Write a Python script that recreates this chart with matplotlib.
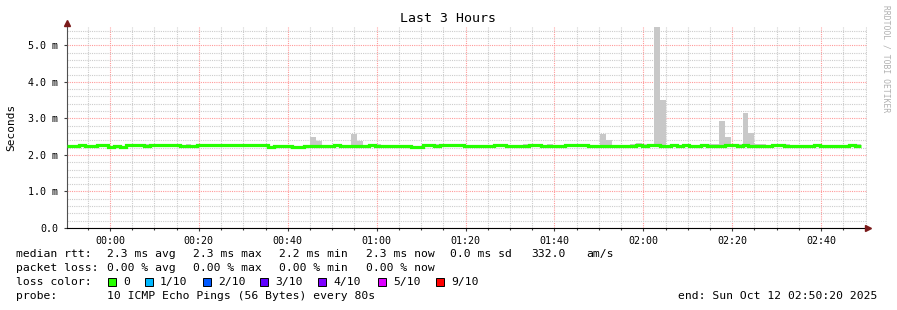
import numpy as np
import matplotlib
matplotlib.use('Agg')
import matplotlib.pyplot as plt
from matplotlib.ticker import MultipleLocator

plt.rcParams['font.family'] = ['DejaVu Sans Mono']

# minutes relative to 00:00, one slot per 80 s step
t_start = -(9 + 40 / 60)   # 23:50:20
t_end = 170 + 20 / 60      # 02:50:20
step_min = 80 / 60

# median rtt per step (ms)
median = [
    2.25, 2.25, 2.27, 2.25, 2.25, 2.27, 2.27, 2.23, 2.25, 2.23,
    2.27, 2.27, 2.27, 2.25, 2.27, 2.27, 2.27, 2.26, 2.27, 2.25,
    2.25, 2.25, 2.27, 2.27, 2.27, 2.27, 2.27, 2.27, 2.27, 2.27,
    2.27, 2.27, 2.27, 2.27, 2.23, 2.25, 2.25, 2.25, 2.23, 2.23,
    2.25, 2.25, 2.25, 2.25, 2.25, 2.27, 2.24, 2.24, 2.25, 2.25,
    2.25, 2.27, 2.25, 2.25, 2.25, 2.25, 2.25, 2.25, 2.23, 2.23,
    2.27, 2.27, 2.25, 2.27, 2.27, 2.27, 2.27, 2.25, 2.25, 2.25,
    2.25, 2.25, 2.27, 2.26, 2.25, 2.25, 2.25, 2.25, 2.27, 2.27,
    2.25, 2.25, 2.25, 2.25, 2.27, 2.27, 2.27, 2.27, 2.25, 2.25,
    2.25, 2.25, 2.25, 2.25, 2.25, 2.25, 2.27, 2.25, 2.27, 2.26,
    2.25, 2.25, 2.27, 2.25, 2.27, 2.25, 2.25, 2.27, 2.25, 2.25,
    2.25, 2.27, 2.27, 2.25, 2.26, 2.25, 2.25, 2.25, 2.25, 2.27,
    2.27, 2.25, 2.25, 2.25, 2.25, 2.25, 2.27, 2.25, 2.25, 2.25,
    2.25, 2.25, 2.27, 2.25,
]

# smoke (max ping) where it shows above the median
smoke_slots = [13, 20, 26, 32, 41, 42, 45, 48, 49, 51, 52, 62, 73, 77, 81,
               90, 91, 95, 96, 97, 99, 100, 108, 109, 110, 111, 113, 114,
               115, 116, 117, 121, 133]
smoke_tops = [2.30, 2.30, 2.30, 2.30, 2.49, 2.38, 2.30, 2.57, 2.38, 2.30,
              2.30, 2.30, 2.30, 2.30, 2.30, 2.57, 2.40, 2.30, 2.32, 2.30,
              5.49, 3.50, 2.30, 2.30, 2.92, 2.49, 2.30, 3.14, 2.60, 2.30,
              2.30, 2.30, 2.30]

x_ticks = [0, 20, 40, 60, 80, 100, 120, 140, 160]
x_labels = ['00:00', '00:20', '00:40', '01:00', '01:20', '01:40',
            '02:00', '02:20', '02:40']
y_ticks = [0, 1, 2, 3, 4, 5]
y_labels = ['0.0', '1.0 m', '2.0 m', '3.0 m', '4.0 m', '5.0 m']

loss_labels = ['0', '1/10', '2/10', '3/10', '4/10', '5/10', '9/10']
loss_colors = ['#26ff00', '#00b8ff', '#0059ff', '#5e00ff', '#7e00ff',
               '#dd00ff', '#ff0000']

W, H = 897, 310
fig = plt.figure(figsize=(W / 100, H / 100), dpi=100)
ax = fig.add_axes([67 / W, (H - 228) / H, 800 / W, 201 / H])

edges = t_start + np.arange(len(median) + 1) * step_min
med = np.array(median)

# smoke
for s, top in zip(smoke_slots, smoke_tops):
    ax.bar(edges[s], top - med[s], width=step_min, bottom=med[s],
           align='edge', color='#c8c8c8', linewidth=0, zorder=2)

# median line
ax.stairs(med, edges, color=loss_colors[0], linewidth=2.3, baseline=None,
          zorder=3)

ax.set_xlim(t_start, t_end)
ax.set_ylim(0, 5.5)

# grid
ax.xaxis.set_minor_locator(MultipleLocator(5))
ax.yaxis.set_minor_locator(MultipleLocator(0.2))
ax.set_xticks(x_ticks)
ax.set_xticklabels(x_labels)
ax.set_yticks(y_ticks)
ax.set_yticklabels(y_labels)
ax.grid(which='minor', color='#cccccc', linestyle=(0, (1, 1)), linewidth=0.8,
        zorder=0)
ax.grid(which='major', color='#ff9a9a', linestyle=(0, (1, 1)), linewidth=0.8,
        zorder=1)
ax.set_axisbelow(True)

for sp in ['top', 'right']:
    ax.spines[sp].set_visible(False)
ax.spines['left'].set_color('#505050')
ax.spines['bottom'].set_color('black')
ax.tick_params(which='major', direction='out', length=2.5, width=0.8,
               colors='#404040', labelsize=7.2, labelcolor='black')
ax.tick_params(axis='x', which='minor', direction='out', length=1.5,
               width=0.8, colors='#404040')
ax.tick_params(axis='y', which='minor', length=0)
ax.tick_params(axis='x', pad=3)
ax.tick_params(axis='y', pad=4)

# axis arrows
ax.plot([t_end + 0.3], [0], marker='>', color='#7a1a1a', markersize=4,
        clip_on=False, zorder=5)
ax.plot([t_start], [5.5 + 0.12], marker='^', color='#7a1a1a', markersize=4,
        clip_on=False, zorder=5)

fig.text(448 / W, 1 - 19 / H, 'Last 3 Hours', ha='center', va='center',
         fontsize=9.5)
fig.text(11 / W, 1 - 127 / H, 'Seconds', ha='center', va='center',
         rotation=90, fontsize=8)
fig.text(886 / W, 1 - 5 / H, 'RRDTOOL / TOBI OETIKER', ha='center', va='top',
         rotation=270, fontsize=5.8, color='#b0b0b0')


def put(x, y, s):
    fig.text(x / W, 1 - y / H, s, ha='left', va='center', fontsize=8.2)


put(16, 254, 'median rtt:')
put(107, 254, '2.3 ms avg')
put(193, 254, '2.3 ms max')
put(279, 254, '2.2 ms min')
put(366, 254, '2.3 ms now')
put(450, 254, '0.0 ms sd')
put(531, 254, '332.0')
put(586, 254, 'am/s')

put(16, 268, 'packet loss:')
put(107, 268, '0.00 % avg')
put(193, 268, '0.00 % max')
put(279, 268, '0.00 % min')
put(366, 268, '0.00 % now')

put(16, 282, 'loss color:')
box_x = [108, 145, 203, 260, 318, 378, 436]
for bx, lab, col in zip(box_x, loss_labels, loss_colors):
    fig.patches.append(plt.Rectangle((bx / W, 1 - 286 / H), 8 / W, 8 / H,
                                     transform=fig.transFigure,
                                     facecolor=col, edgecolor='black',
                                     linewidth=0.7))
    put(bx + 15, 282, lab)

put(16, 296, 'probe:')
put(107, 296, '10 ICMP Echo Pings (56 Bytes) every 80s')
put(678, 296, 'end: Sun Oct 12 02:50:20 2025')

fig.savefig('out.png', dpi=100)
